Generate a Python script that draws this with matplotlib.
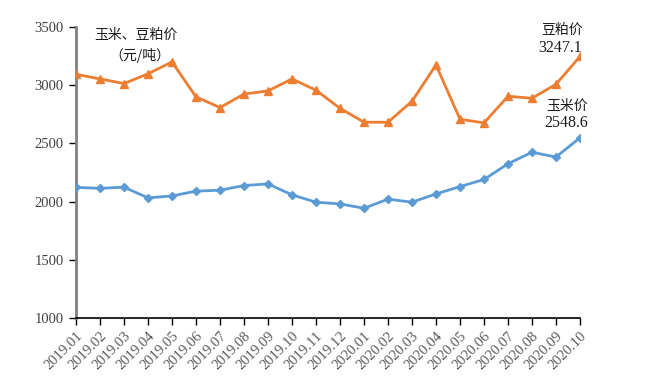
import matplotlib
matplotlib.use("Agg")
import matplotlib.pyplot as plt

months = ["2019.01", "2019.02", "2019.03", "2019.04", "2019.05", "2019.06",
          "2019.07", "2019.08", "2019.09", "2019.10", "2019.11", "2019.12",
          "2020.01", "2020.02", "2020.03", "2020.04", "2020.05", "2020.06",
          "2020.07", "2020.08", "2020.09", "2020.10"]
soymeal = [3094, 3054, 3014, 3098, 3200, 2900, 2808, 2924, 2951, 3054, 2957, 2802,
           2682, 2682, 2862, 3174, 2708, 2676, 2905, 2888, 3008, 3247.1]
corn = [2122, 2114, 2124, 2032, 2049, 2090, 2098, 2138, 2152, 2058, 1995, 1980,
        1943, 2021, 1995, 2066, 2129, 2190, 2325, 2424, 2383, 2548.6]
yticks = [1000, 1500, 2000, 2500, 3000, 3500]

plt.rcParams['font.family'] = ['Noto Sans CJK SC', 'DejaVu Sans']
num_font = ['Liberation Serif', 'DejaVu Serif']

fig = plt.figure(figsize=(6.49, 3.84), dpi=100)
ax = fig.add_axes([76/649, 1-318/384, (580-76)/649, (318-27)/384])

x = list(range(len(months)))
ax.plot(x, soymeal, color='#ED7D31', lw=2, marker='^', ms=6, zorder=3)
ax.plot(x, corn, color='#5B9BD5', lw=2, marker='D', ms=4.5, zorder=3)

ax.set_xlim(0, len(months)-1)
ax.set_ylim(1000, 3500)
ax.set_yticks(yticks)
ax.set_yticklabels([str(v) for v in yticks], family=num_font, fontsize=10.5, color='#404040')
ax.set_xticks(x)
ax.set_xticklabels(months, family=num_font, fontsize=10.5, color='#595959',
                   rotation=45, ha='right', rotation_mode='anchor')

for s in ['top', 'right']:
    ax.spines[s].set_visible(False)
ax.spines['left'].set_color('#808080')
ax.spines['left'].set_linewidth(2)
ax.spines['bottom'].set_color('black')
ax.spines['bottom'].set_linewidth(1.2)
ax.tick_params(axis='y', direction='out', length=5, width=1, color='black', pad=4)
ax.tick_params(axis='x', direction='out', length=5, width=1, color='black', pad=3)

txt = dict(ha='center', va='center', color='#1a1a1a')
ax.text(2.5, 3431, "玉米、豆粕价", fontsize=10, weight='medium', **txt)
ax.text(2.67, 3259, "（元/吨）", fontsize=10, weight='medium', **txt)
ax.text(20.25, 3474, "豆粕价", fontsize=10, weight='medium', **txt)
ax.text(20.17, 3322, "3247.1", fontsize=11.5, family=num_font, **txt)
ax.text(20.46, 2821, "玉米价", fontsize=10, weight='medium', **txt)
ax.text(20.42, 2678, "2548.6", fontsize=11.5, family=num_font, **txt)

fig.savefig("out.png", dpi=100)
